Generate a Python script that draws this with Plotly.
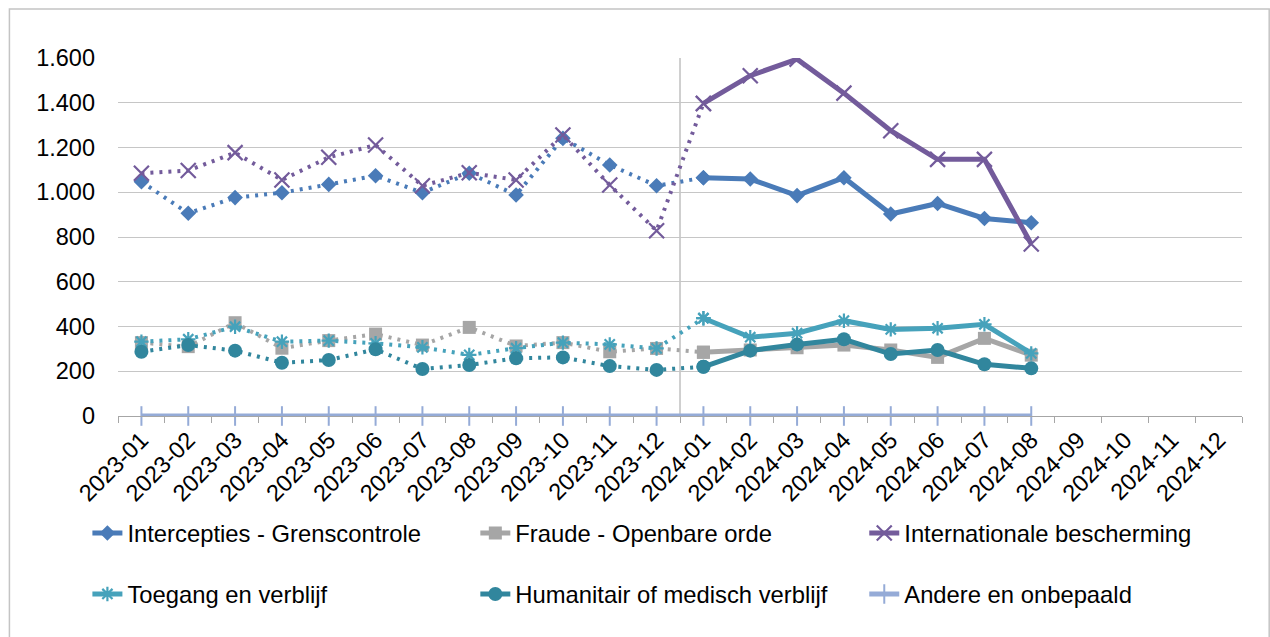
import plotly.graph_objects as go

months = ["2023-01", "2023-02", "2023-03", "2023-04", "2023-05", "2023-06",
          "2023-07", "2023-08", "2023-09", "2023-10", "2023-11", "2023-12",
          "2024-01", "2024-02", "2024-03", "2024-04", "2024-05", "2024-06",
          "2024-07", "2024-08", "2024-09", "2024-10", "2024-11", "2024-12"]

intercepties = [1047, 906, 976, 998, 1035, 1074, 998, 1085, 988, 1241, 1122, 1029,
                1065, 1059, 985, 1065, 903, 950, 883, 864]
fraude = [328, 310, 417, 303, 337, 366, 317, 396, 313, 328, 287, 302,
          285, 295, 305, 317, 295, 262, 347, 272]
internationale = [1085, 1097, 1177, 1055, 1156, 1211, 1029, 1087, 1055, 1256, 1032, 828,
                  1397, 1521, 1595, 1443, 1275, 1147, 1147, 769]
toegang = [332, 343, 399, 332, 337, 325, 307, 273, 303, 328, 320, 302,
           437, 352, 370, 426, 387, 392, 410, 280]
humanitair = [287, 317, 292, 238, 250, 298, 210, 228, 258, 262, 223, 206,
              220, 292, 320, 343, 277, 295, 231, 213]
andere = [0, 0, 0, 0, 0, 0, 0, 0, 0, 0, 0, 0,
          0, 0, 0, 0, 0, 0, 0, 0]

y_ticks = [0, 200, 400, 600, 800, 1000, 1200, 1400, 1600]

W, H = 1270, 637
L, R, T, B = 117.6, 28.2, 58, 221
PW = W - L - R
PH = H - T - B


def px2x(px):
    return (px - L) / PW


def py2y(py):
    return (H - B - py) / PH


FONT = "Liberation Sans, Arial, sans-serif"
FS_AX = 23.5
FS_LEG = 23.8
SPLIT = 12  # index of 2024-01

series = [
    ("Intercepties - Grenscontrole", intercepties, "#4a7bb8",
     dict(symbol="diamond", size=12), "legend"),
    ("Fraude - Openbare orde", fraude, "#a6a6a6",
     dict(symbol="square", size=13), "legend2"),
    ("Internationale bescherming", internationale, "#735b9b",
     dict(symbol="x-thin", size=15, line=dict(width=2.2, color="#735b9b")), "legend3"),
    ("Toegang en verblijf", toegang, "#46a2bb",
     dict(symbol="asterisk", size=12, line=dict(width=2.2, color="#46a2bb")), "legend4"),
    ("Humanitair of medisch verblijf", humanitair, "#31869d",
     dict(symbol="circle", size=14), "legend5"),
]

fig = go.Figure()

for name, vals, color, mk, lg in series:
    mk = dict(mk)
    mk["color"] = color
    # dotted part (2023 up to 2024-01)
    fig.add_trace(go.Scatter(
        x=months[:SPLIT + 1], y=vals[:SPLIT + 1], mode="lines+markers",
        line=dict(color=color, width=4, dash="3px,6px"),
        marker=mk, showlegend=False, hoverinfo="skip", name=name))
    # solid part (2024)
    fig.add_trace(go.Scatter(
        x=months[SPLIT:len(vals)], y=vals[SPLIT:], mode="lines+markers",
        line=dict(color=color, width=5),
        marker=mk, name=name, legend=lg, showlegend=True))

fig.add_trace(go.Scatter(
    x=months[:len(andere)], y=andere, mode="lines+markers",
    line=dict(color="#95abd7", width=5),
    marker=dict(symbol="line-ns", size=14, color="#95abd7",
                line=dict(width=2, color="#95abd7")),
    name="Andere en onbepaald", legend="legend6", showlegend=True, cliponaxis=False))

# legends placed as in the reference (3 columns x 2 rows)
leg_cols = [87, 475, 864]
leg_rows = [533, 594]
leg_names = ["legend", "legend2", "legend3", "legend4", "legend5", "legend6"]
legends = {}
for i, ln in enumerate(leg_names):
    legends[ln] = dict(
        x=px2x(leg_cols[i % 3]), y=py2y(leg_rows[i // 3]),
        xanchor="left", yanchor="middle",
        bgcolor="rgba(0,0,0,0)", borderwidth=0,
        font=dict(family=FONT, size=FS_LEG, color="#000000"),
        itemwidth=30)

fig.update_layout(
    width=W, height=H,
    margin=dict(l=L, r=R, t=T, b=B, pad=0),
    paper_bgcolor="white", plot_bgcolor="white",
    separators=",.",
    font=dict(family=FONT, size=FS_AX, color="#000000"),
    xaxis=dict(
        type="category", categoryorder="array", categoryarray=months,
        range=[-0.5, len(months) - 0.5],
        tickmode="array", tickvals=months, ticktext=months,
        tickangle=-45, tickson="boundaries",
        ticks="outside", ticklen=6, tickcolor="#a6a6a6", tickwidth=1,
        showline=True, linecolor="#a6a6a6", linewidth=1,
        showgrid=False, zeroline=False,
        tickfont=dict(family=FONT, size=FS_AX, color="#000000"),
        fixedrange=True,
    ),
    yaxis=dict(
        range=[0, 1600], tickmode="array", tickvals=y_ticks,
        tickformat=",d",
        showgrid=True, gridcolor="#c6c6c6", gridwidth=1,
        zeroline=False, showline=False, ticks="",
        ticklabelstandoff=22,
        tickfont=dict(family=FONT, size=FS_AX, color="#000000"),
        fixedrange=True,
    ),
    shapes=[
        dict(type="line", xref="x", yref="y", x0=11.5, x1=11.5, y0=0, y1=1600,
             line=dict(color="#a0a0a0", width=1), layer="below"),
        dict(type="rect", xref="paper", yref="paper",
             x0=px2x(9), x1=px2x(1269), y0=py2y(9), y1=py2y(660),
             line=dict(color="#c4c4c4", width=1.5), fillcolor="rgba(0,0,0,0)",
             layer="below"),
    ],
    **legends,
)

fig.write_html("out.html", config={"displayModeBar": False},
               post_script="document.body.style.margin='0';document.body.style.overflow='hidden';")
